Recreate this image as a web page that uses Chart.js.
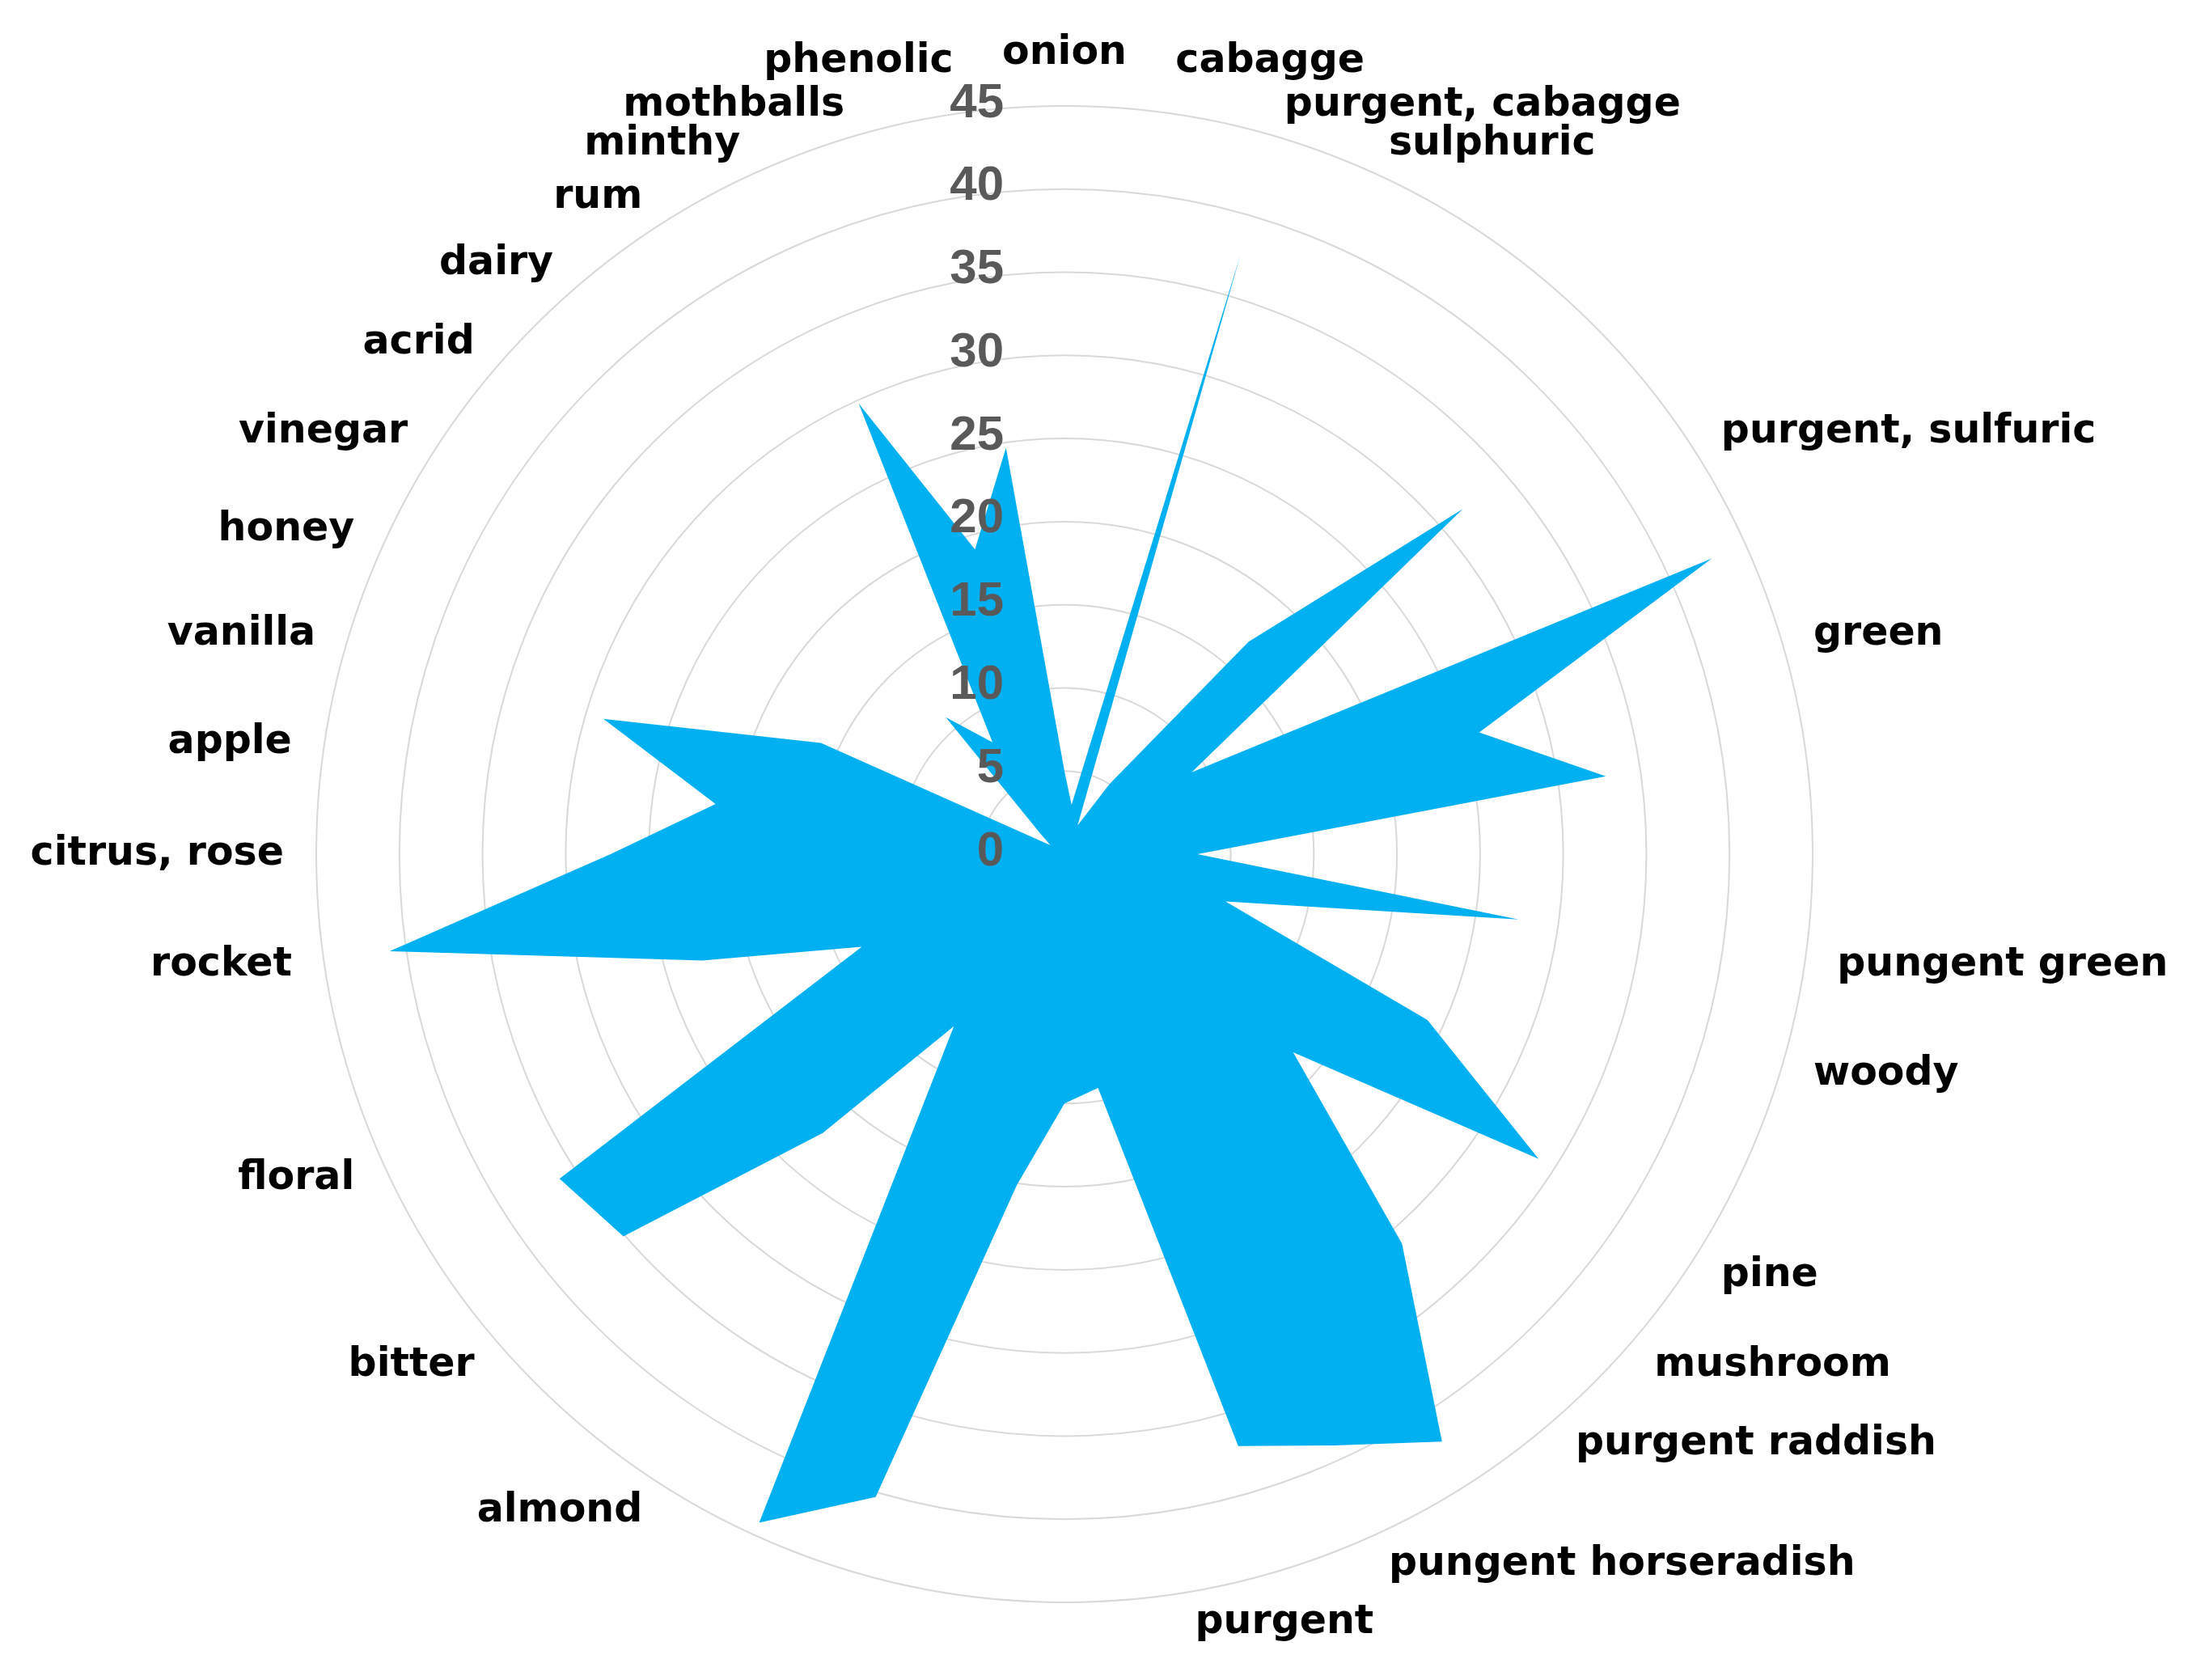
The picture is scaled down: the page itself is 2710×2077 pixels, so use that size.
<!DOCTYPE html>
<html>
<head>
<meta charset="utf-8">
<script src="https://cdn.jsdelivr.net/npm/chart.js@4/dist/chart.umd.min.js"></script>
<style>
html,body{margin:0;padding:0;background:#ffffff;}
canvas{display:block;}
</style>
</head>
<body>
<canvas id="c" width="2710" height="2077"></canvas>
<script>
const categories = [
  'onion', 'cabagge', 'purgent, cabagge', 'sulphuric', '', '', '', 'purgent, sulfuric', '', 'green',
  '', '', 'pungent green', 'woody', '', 'pine', 'mushroom', 'purgent raddish', '', 'pungent horseradish',
  'purgent', '', '', '', '', '', 'almond', '', 'bitter', '',
  'floral', '', 'rocket', 'citrus, rose', 'apple', 'vanilla', 'honey', 'vinegar', 'acrid', 'dairy',
  'rum', 'minthy', 'mothballs', 'phenolic'
];
const values = [
  5, 3, 37.6, 1.9, 5, 16.9, 31.7, 9.1, 42.8, 26,
  32.9, 8, 27.6, 10.1, 24, 33.9, 18.2, 31, 42, 39.1,
  37.1, 14.2, 15, 20.1, 40.3, 44.2, 12.3, 22.2, 35.1, 36.1,
  13.4, 22.7, 41, 27.3, 21.2, 28.9, 16.1, 1, 2, 10.9,
  8, 29.8, 19.1, 24.7
];
const tickValues = [0, 5, 10, 15, 20, 25, 30, 35, 40, 45];

const labelPlugin = {
  id: 'excelLabels',
  afterDatasetsDraw(chart) {
    const s = chart.scales.r;
    const ctx = chart.ctx;
    ctx.save();
    // value axis labels (drawn over the fill, left of the vertical axis)
    ctx.font = 'bold 60px "Liberation Sans", Arial, sans-serif';
    ctx.fillStyle = '#595959';
    ctx.textAlign = 'right';
    ctx.textBaseline = 'middle';
    tickValues.forEach(v => {
      const d = s.getDistanceFromCenterForValue(v);
      ctx.fillText(String(v), s.xCenter - 75, s.yCenter - d - 3);
    });
    // category labels
    ctx.font = 'bold 49px "DejaVu Sans", sans-serif';
    ctx.fillStyle = '#000000';
    const R = s.drawingArea + 40;
    categories.forEach((lab, i) => {
      if (!lab) return;
      const p = s.getPointPosition(i, R);
      const a = s.getIndexAngle(i);
      const sn = Math.sin(a), cs = Math.cos(a);
      let align, base;
      if (Math.abs(sn) < 0.05 || cs < -0.94) align = 'center';
      else align = sn > 0 ? 'left' : 'right';
      if (cs > 0.975) base = 'bottom';
      else if (cs < -0.94) base = 'top';
      else base = 'middle';
      ctx.textAlign = align;
      ctx.textBaseline = base;
      ctx.fillText(lab, p.x, p.y);
    });
    ctx.restore();
  }
};

new Chart(document.getElementById('c'), {
  type: 'radar',
  data: {
    labels: categories,
    datasets: [{
      data: values,
      backgroundColor: '#00B0F0',
      borderColor: '#00B0F0',
      borderWidth: 0,
      pointRadius: 0,
      pointHoverRadius: 0,
      fill: true,
      tension: 0
    }]
  },
  options: {
    responsive: false,
    animation: false,
    devicePixelRatio: 1,
    layout: { padding: { left: 391, top: 131, right: 469, bottom: 96 } },
    plugins: { legend: { display: false }, tooltip: { enabled: false } },
    scales: {
      r: {
        min: 0,
        max: 45,
        startAngle: 0,
        ticks: { display: false, stepSize: 5 },
        grid: { circular: true, color: '#D9D9D9', lineWidth: 2 },
        angleLines: { display: false },
        pointLabels: { display: false }
      }
    }
  },
  plugins: [labelPlugin]
});
</script>
</body>
</html>
